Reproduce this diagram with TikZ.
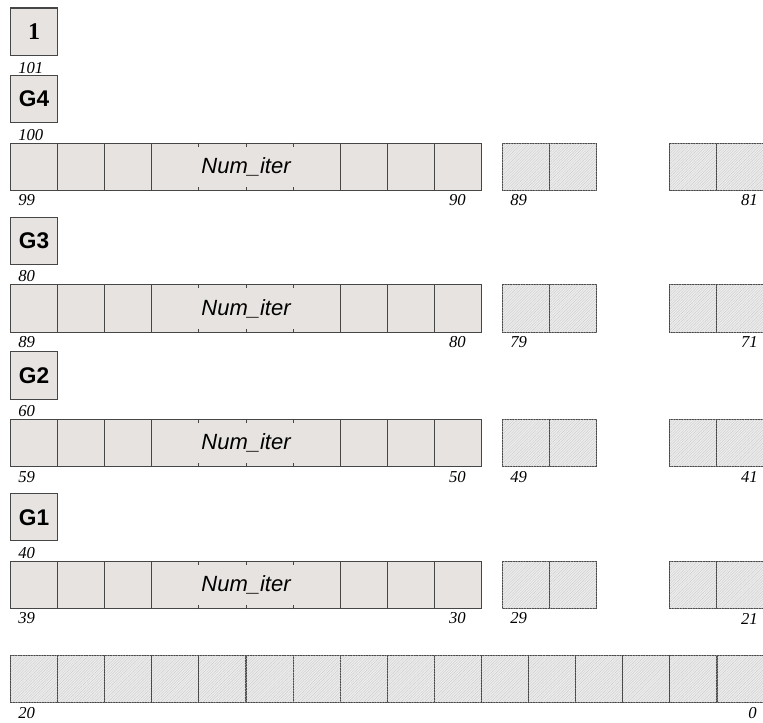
\documentclass[tikz,border=0pt]{standalone}
\usepackage{fontspec}
\setmainfont{Liberation Serif}
\setsansfont{Liberation Sans}
\usetikzlibrary{patterns.meta,calc}

\definecolor{cellgray}{RGB}{230,227,224}
\definecolor{hatchgray}{RGB}{236,236,236}
\definecolor{linegray}{RGB}{70,70,70}

\tikzset{
  cell/.style={draw=linegray, fill=cellgray, line width=0.8pt, minimum width=35.3pt,
    minimum height=35.5pt, inner sep=0pt, anchor=north west},
  hatchcell/.style={cell, fill=hatchgray,
    postaction={pattern={Lines[angle=45,distance=1.4pt,line width=0.2pt]}, pattern color=gray!45}},
  gbox/.style={cell, font=\sffamily\bfseries\fontsize{17}{17}\selectfont},
  idx/.style={font=\itshape\fontsize{12.5}{12.5}\selectfont, inner sep=0pt},
  itertext/.style={font=\sffamily\itshape\fontsize{16.5}{16.5}\selectfont},
  tick/.style={draw=linegray, line width=0.8pt}
}

\begin{document}
\begin{tikzpicture}[x=0.75pt, y=-0.75pt]
\useasboundingbox (0,0) rectangle (763,723);

% top box
\node[cell, font=\bfseries\fontsize{18}{18}\selectfont] (one) at (10,7.5) {1};
\node[idx, anchor=west] (l101) at (18,68) {101};

% register rows
\foreach \top/\g/\up/\lo/\hi/\hl/\hr [count=\r] in
  {142.7/G4/100/99/90/89/81, 284.3/G3/80/89/80/79/71,
   419/G2/60/59/50/49/41, 560.7/G1/40/39/30/29/21}{
  \node[gbox] (g\r) at (10,\top-67.7) {\g};
  \node[idx, anchor=west] (up\r) at (18,\top-8) {\up};
  \foreach \i in {0,1,2,7,8,9}
    \node[cell] (c\r-\i) at ({10+47.1*\i},\top) {};
  \node[cell, itertext, minimum width=141.3pt] (it\r) at (151.3,\top) {Num\_iter};
  \foreach \k in {1,2,3}{
    \draw[tick] ($(it\r.north west)!\k/4!(it\r.north east)$) -- ++(0,4);
    \draw[tick] ($(it\r.south west)!\k/4!(it\r.south east)$) -- ++(0,-4);
  }
  \node[hatchcell] (ha\r) at (501.7,\top) {};
  \node[hatchcell] (hb\r) at (549.1,\top) {};
  \node[hatchcell] (hc\r) at (669,\top) {};
  \node[hatchcell] (hd\r) at (716.1,\top) {};
  \node[idx, anchor=west] (lo\r) at (18,\top+57.8) {\lo};
  \node[idx, anchor=east] (hi\r) at (466,\top+57.8) {\hi};
  \node[idx, anchor=west] (hl\r) at (510,\top+57.8) {\hl};
  \node[idx, anchor=east] (hr\r) at (758,\top+57.8) {\hr};
}

% bottom row
\foreach \i in {0,...,15}
  \node[hatchcell] (b\i) at ({10+47.1*\i},654.5) {};
\node[idx, anchor=west] (l20) at (18,713.5) {20};
\node[idx, anchor=east] (l0) at (757,713.5) {0};
\end{tikzpicture}
\end{document}
